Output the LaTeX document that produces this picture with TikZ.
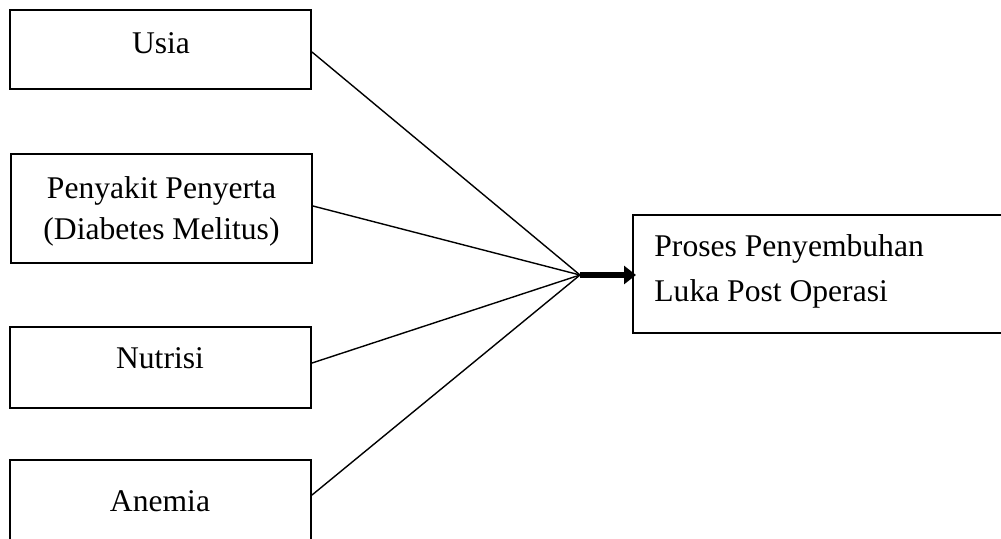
\documentclass[tikz,border=0pt]{standalone}
\usepackage{fontspec}
\setmainfont{Liberation Serif}
\usetikzlibrary{arrows.meta}
\begin{document}
\begin{tikzpicture}[x=0.5pt,y=-0.5pt,
  box/.style={draw=black, line width=1pt, rectangle, inner sep=0pt},
  lbl/.style={font=\fontsize{15.8pt}{19pt}\selectfont, inner sep=0pt, anchor=base},
  link/.style={draw=black, line width=0.7pt},
  bigarrow/.style={draw=black, line width=3pt, -{Triangle[length=6pt,width=9pt]}}]
\useasboundingbox (0,0) rectangle (1001,538);
\clip (0,0) rectangle (1001,538);
% boxes
\node[box, minimum width=301*0.5pt, minimum height=79*0.5pt] (usia) at (160.5,49.5) {};
\node[box, minimum width=301*0.5pt, minimum height=109*0.5pt] (penyakit) at (161.5,208.5) {};
\node[box, minimum width=301*0.5pt, minimum height=81*0.5pt] (nutrisi) at (160.5,367.5) {};
\node[box, minimum width=301*0.5pt, minimum height=100*0.5pt] (anemia) at (160.5,510) {};
\node[box, minimum width=400*0.5pt, minimum height=118*0.5pt] (hasil) at (833,274) {};
% texts
\node[lbl] (tusia) at (161,53) {Usia};
\node[lbl] (tpen1) at (161.5,198) {Penyakit Penyerta};
\node[lbl] (tpen2) at (161.5,239) {(Diabetes Melitus)};
\node[lbl] (tnut) at (160,368) {Nutrisi};
\node[lbl] (tane) at (160,511) {Anemia};
\node[lbl, anchor=base west] (thas1) at (654,256) {Proses Penyembuhan};
\node[lbl, anchor=base west] (thas2) at (654,301) {Luka Post Operasi};
% connectors
\coordinate (hub) at (580,275);
\draw[link] ([yshift=-1.25pt]usia.east) -- (hub);
\draw[link] ([yshift=1.25pt]penyakit.east) -- (hub);
\draw[link] ([yshift=2.25pt]nutrisi.east) -- (hub);
\draw[link] ([yshift=7.5pt]anemia.east) -- (hub);
\draw[bigarrow] (hub) -- ([xshift=2pt,yshift=-0.5pt]hasil.west);
\end{tikzpicture}
\end{document}
